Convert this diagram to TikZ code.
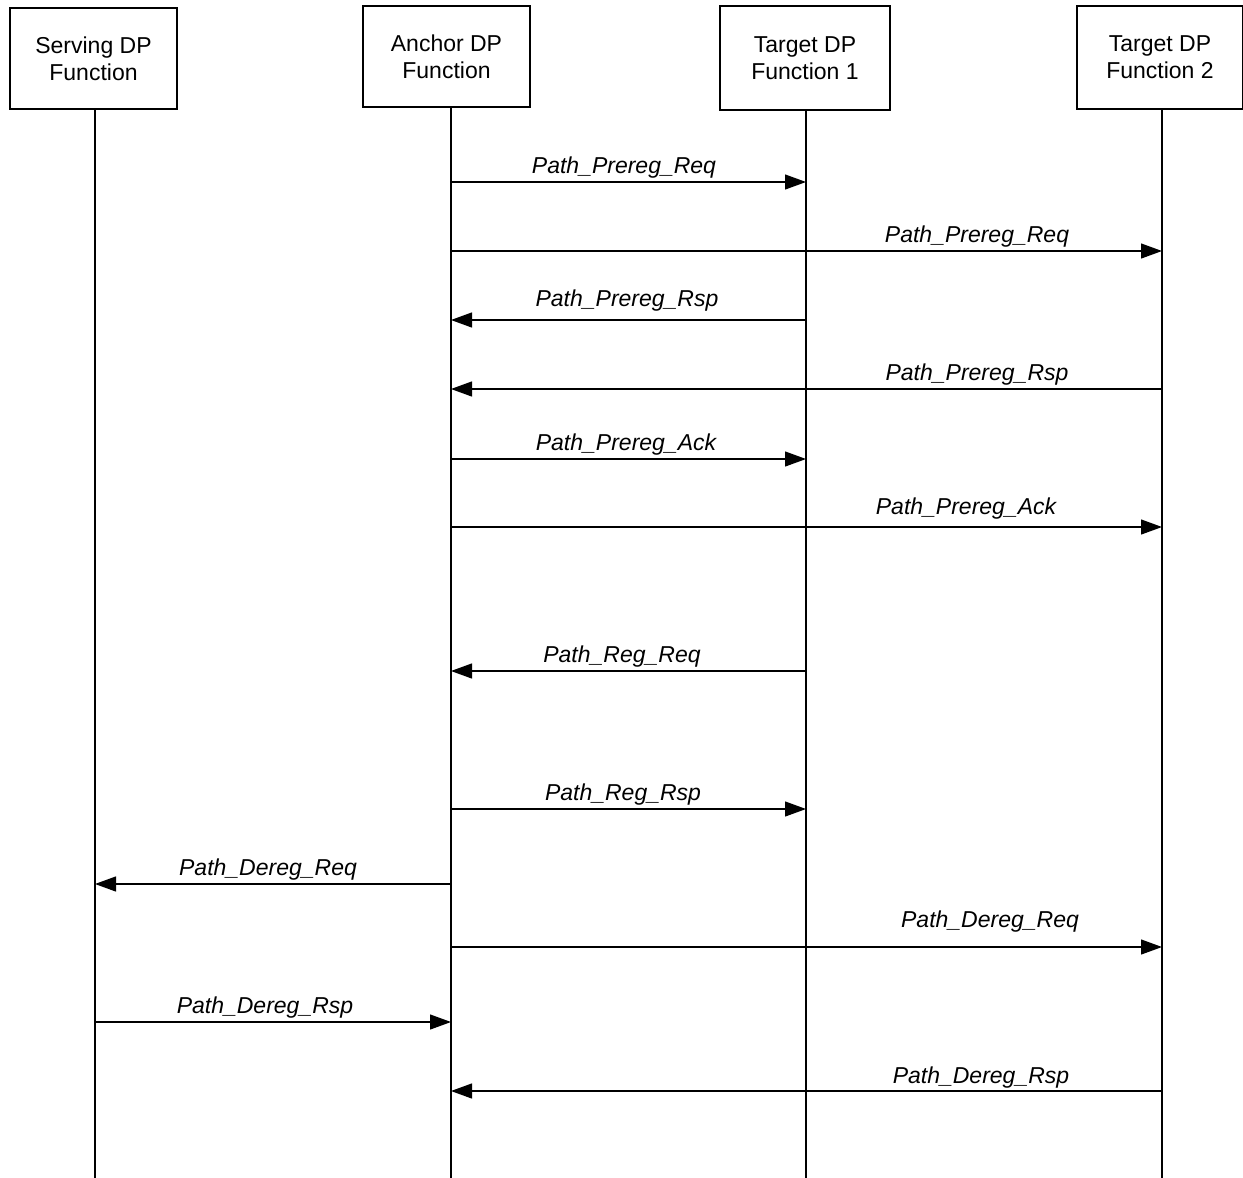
\documentclass[tikz,border=0pt]{standalone}
\usepackage{fontspec}
\setmainfont{Liberation Sans}
\usetikzlibrary{arrows.meta}
\begin{document}
\begin{tikzpicture}[x=1pt,y=-1pt,
  ent/.style={draw,line width=1.2pt,align=center,inner sep=0pt,font=\fontsize{23}{27}\selectfont},
  life/.style={line width=1.2pt},
  msg/.style={line width=1.2pt,-{Triangle[length=21pt,width=15pt]}},
  lbl/.style={anchor=base,font=\fontsize{23}{27}\selectfont\itshape}]
\useasboundingbox (0,0) rectangle (1243,1178);
\node[ent,minimum width=167pt,minimum height=101pt] (S) at (93.5,58.5) {Serving DP\\Function};
\node[ent,minimum width=167pt,minimum height=101pt] (A) at (446.5,56.5) {Anchor DP\\Function};
\node[ent,minimum width=170pt,minimum height=104pt] (T1) at (805,58) {Target DP\\Function 1};
\node[ent,minimum width=166pt,minimum height=103pt] (T2) at (1160,57.5) {Target DP\\Function 2};
\coordinate (Sb) at (95,1178);
\coordinate (Ab) at (451,1178);
\coordinate (T1b) at (806,1178);
\coordinate (T2b) at (1162,1178);
\draw[life] (Sb |- S.south) -- (Sb);
\draw[life] (Ab |- A.south) -- (Ab);
\draw[life] (T1b |- T1.south) -- (T1b);
\draw[life] (T2b |- T2.south) -- (T2b);
% message rows
\foreach \n/\y in {1/182,2/251,3/320,4/389,5/459,6/527,7/671,8/809,9/884,10/947,11/1022,12/1091}{
  \coordinate (m\n) at (0,\y);
}
\draw[msg] (Ab |- m1) -- (T1b |- m1);
\node[lbl] (l1) at (624,173) {Path\_Prereg\_Req};
\draw[msg] (Ab |- m2) -- (T2b |- m2);
\node[lbl] (l2) at (977,242) {Path\_Prereg\_Req};
\draw[msg] (T1b |- m3) -- (Ab |- m3);
\node[lbl] (l3) at (627,306) {Path\_Prereg\_Rsp};
\draw[msg] (T2b |- m4) -- (Ab |- m4);
\node[lbl] (l4) at (977,380) {Path\_Prereg\_Rsp};
\draw[msg] (Ab |- m5) -- (T1b |- m5);
\node[lbl] (l5) at (626,450) {Path\_Prereg\_Ack};
\draw[msg] (Ab |- m6) -- (T2b |- m6);
\node[lbl] (l6) at (966,514) {Path\_Prereg\_Ack};
\draw[msg] (T1b |- m7) -- (Ab |- m7);
\node[lbl] (l7) at (622,662) {Path\_Reg\_Req};
\draw[msg] (Ab |- m8) -- (T1b |- m8);
\node[lbl] (l8) at (623,800) {Path\_Reg\_Rsp};
\draw[msg] (Ab |- m9) -- (Sb |- m9);
\node[lbl] (l9) at (268,875) {Path\_Dereg\_Req};
\draw[msg] (Ab |- m10) -- (T2b |- m10);
\node[lbl] (l10) at (990,927) {Path\_Dereg\_Req};
\draw[msg] (Sb |- m11) -- (Ab |- m11);
\node[lbl] (l11) at (265,1013) {Path\_Dereg\_Rsp};
\draw[msg] (T2b |- m12) -- (Ab |- m12);
\node[lbl] (l12) at (981,1083) {Path\_Dereg\_Rsp};
\end{tikzpicture}
\end{document}
